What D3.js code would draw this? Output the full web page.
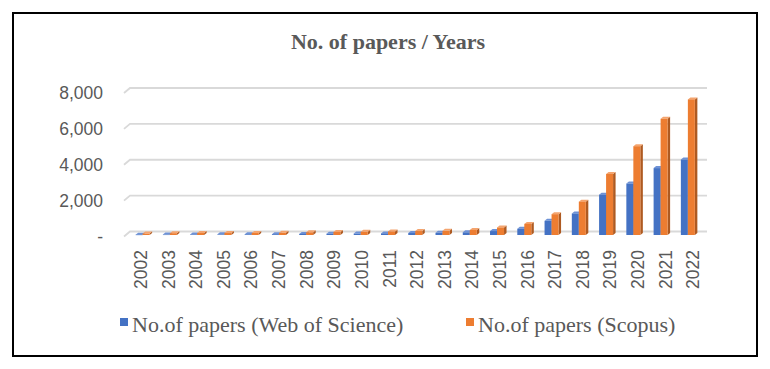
<!DOCTYPE html>
<html><head><meta charset="utf-8">
<script src="https://cdn.jsdelivr.net/npm/d3@7/dist/d3.min.js"></script>
<style>body{margin:0;background:#fff}svg{display:block}</style>
</head><body>
<svg id="c" width="770" height="369"></svg>
<script>
const years = ["2002","2003","2004","2005","2006","2007","2008","2009","2010","2011","2012","2013","2014","2015","2016","2017","2018","2019","2020","2021","2022"];
const wos = [20,25,30,35,40,45,60,70,80,90,110,120,150,220,350,790,1200,2250,2870,3730,4210];
const scopus = [80,100,110,110,110,120,150,170,180,200,220,230,280,420,620,1160,1860,3400,4950,6480,7560];
const yTicks = [0,2000,4000,6000,8000];
const seriesNames = ["No.of papers (Web of Science)","No.of papers (Scopus)"];
const colors = [{front:"#4472C4",top:"#6E92D6",side:"#2F528F"},{front:"#ED7D31",top:"#F4A46E",side:"#AE5A21"}];

const svg = d3.select("#c");
// border
svg.append("rect").attr("x",13).attr("y",13).attr("width",744).attr("height",343)
  .attr("fill","none").attr("stroke","#000").attr("stroke-width",2);

// title
svg.append("text").attr("x",388).attr("y",49).attr("text-anchor","middle")
  .attr("font-family","Liberation Serif").attr("font-weight","bold").attr("font-size",22)
  .attr("fill","#595959").text("No. of papers / Years");

const y = d3.scaleLinear().domain([0,8000]).range([236.5,93]);
const x = d3.scaleBand().domain(years).range([127,707]);
const xb = d3.scaleBand().domain(years).range([129.5,702]);
const backDx = 6, backDy = -5;

// gridlines (3D back wall)
const grid = svg.append("g");
yTicks.forEach(t => {
  const yf = y(t);
  grid.append("path")
    .attr("d", `M124,${yf} L${124+backDx},${yf+backDy} L707,${yf+backDy}`)
    .attr("fill","none").attr("stroke","#d9d9d9").attr("stroke-width",1.8);
});

// y axis labels
const yAxis = d3.axisLeft(y).tickValues(yTicks).tickSize(0).tickPadding(0)
  .tickFormat(d => d === 0 ? "-" : d3.format(",")(d));
const ya = svg.append("g").attr("transform","translate(103,0)").call(yAxis);
ya.select(".domain").remove();
ya.selectAll("text").attr("font-family","Liberation Sans").attr("font-size",17.5).attr("fill","#595959");

// x axis labels
const xAxis = d3.axisBottom(x).tickSize(0).tickPadding(0);
const xa = svg.append("g").attr("transform","translate(0,250)").call(xAxis);
xa.select(".domain").remove();
xa.selectAll("text").attr("font-family","Liberation Sans").attr("font-size",17.5).attr("fill","#595959")
  .attr("transform","rotate(-90)").attr("text-anchor","end").attr("dy","0.35em")
  .attr("x",0).attr("y",0);

// bars
const yBar = d3.scaleLinear().domain([0,8000]).range([235,91.5]);
const bw = 7, sd = 2.5, td = 2;
const bars = svg.append("g");
const series = [wos, scopus];
series.forEach((vals, si) => {
  vals.forEach((v, i) => {
    const cx = xb(years[i]) + xb.bandwidth()/2;
    const x0 = si === 0 ? cx - 7.5 : cx - 0.5;
    const y0 = yBar(v), yb = yBar(0);
    const c = colors[si];
    bars.append("polygon")
      .attr("points", `${x0+bw},${y0} ${x0+bw+sd},${y0-td} ${x0+bw+sd},${yb-td} ${x0+bw},${yb}`)
      .attr("fill", c.side);
    bars.append("polygon")
      .attr("points", `${x0},${y0} ${x0+sd},${y0-td} ${x0+bw+sd},${y0-td} ${x0+bw},${y0}`)
      .attr("fill", c.top);
    bars.append("rect").attr("x",x0).attr("y",y0).attr("width",bw).attr("height",Math.max(0.5,yb-y0))
      .attr("fill", c.front);
  });
});

// legend
const leg = svg.append("g");
const legX = [120, 466];
seriesNames.forEach((n, i) => {
  leg.append("rect").attr("x",legX[i]).attr("y",318).attr("width",8).attr("height",8).attr("fill",colors[i].front);
  leg.append("text").attr("x",legX[i]+12).attr("y",331.5)
    .attr("font-family","Liberation Serif").attr("font-size",22).attr("fill","#595959").text(n);
});
</script>
</body></html>
